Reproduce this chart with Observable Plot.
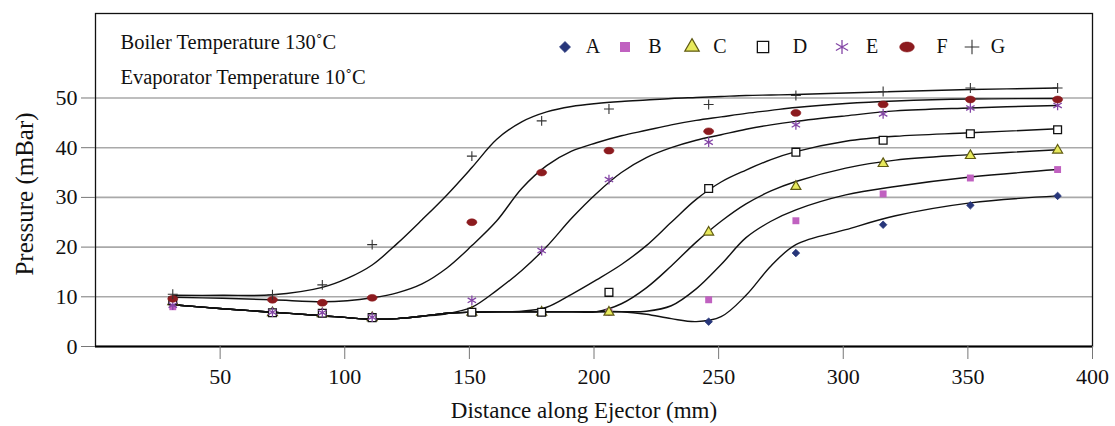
<!DOCTYPE html>
<html>
<head>
<meta charset="utf-8">
<script src="https://cdn.jsdelivr.net/npm/d3@7"></script>
<script src="https://cdn.jsdelivr.net/npm/@observablehq/plot@0.6"></script>
<style>
  body { margin: 0; background: #fff; }
  #wrap { position: relative; width: 1115px; height: 426px; font-family: "Liberation Serif", "Times New Roman", serif; color: #111; }
  #legend { position: absolute; left: 0; top: 0; width: 1115px; height: 0; }
  .lg-sym { position: absolute; }
  .lg-txt { position: absolute; font-size: 20px; line-height: 20px; transform: translateX(-50%); }
</style>
</head>
<body>
<div id="wrap"></div>
<script>
// ---------------- data ----------------
const seriesNames = ["A", "B", "C", "D", "E", "F", "G"];

// measured points (markers)
const pointX = [31, 71, 91, 111, 151, 179, 206, 246, 281, 316, 351, 386];
const pointA = [8.6, 6.8, 6.6, 5.8, 6.9, 6.9, 6.9, 5.0, 18.8, 24.5, 28.4, 30.3];
const pointB = [8.0, 6.8, 6.6, 5.8, 6.9, 6.9, 6.9, 9.4, 25.3, 30.7, 33.9, 35.6];
const pointC = [9.0, 6.8, 6.6, 5.8, 6.9, 6.9, 6.9, 23.0, 32.2, 36.8, 38.4, 39.5];
const pointD = [9.2, 6.8, 6.7, 5.8, 6.9, 6.9, 10.9, 31.8, 39.1, 41.5, 42.8, 43.6];
const pointE = [8.3, 6.9, 6.8, 5.9, 9.3, 19.3, 33.6, 41.1, 44.6, 46.8, 48.0, 48.5];
const pointF = [9.6, 9.4, 8.8, 9.8, 25.0, 35.0, 39.4, 43.3, 47.0, 48.7, 49.7, 49.7];
const pointG = [10.5, 10.4, 12.4, 20.5, 38.3, 45.4, 47.8, 48.7, 50.5, 51.3, 52.0, 52.0];

// fitted curves
const curveX = [31, 51, 71, 91, 101, 111, 121, 131, 141, 151, 161, 171, 181, 191, 201, 211, 221, 231, 241, 251, 261, 271, 281, 301, 321, 351, 386];
const curveA = [8.4, 7.6, 6.9, 6.2, 5.8, 5.5, 5.6, 6.1, 6.7, 6.9, 7.0, 7.0, 7.0, 7.0, 7.0, 7.0, 6.5, 5.6, 5.0, 6.0, 10.3, 16.2, 20.5, 23.5, 26.3, 28.9, 30.3];
const curveB = [8.4, 7.6, 6.9, 6.2, 5.8, 5.5, 5.6, 6.1, 6.7, 6.9, 7.0, 7.0, 7.0, 7.0, 7.0, 7.0, 7.1, 8.2, 11.6, 16.5, 21.9, 25.2, 27.5, 30.5, 32.2, 34.1, 35.6];
const curveC = [8.4, 7.6, 6.9, 6.2, 5.8, 5.5, 5.6, 6.1, 6.7, 6.9, 7.0, 7.0, 7.0, 7.0, 7.0, 8.6, 11.8, 16.2, 21.0, 25.2, 28.7, 31.3, 33.2, 35.9, 37.5, 38.6, 39.6];
const curveD = [8.4, 7.6, 6.9, 6.2, 5.8, 5.5, 5.6, 6.1, 6.7, 6.9, 7.0, 7.1, 7.9, 10.5, 13.4, 16.5, 20.3, 25.0, 29.6, 33.1, 35.5, 37.6, 39.2, 41.3, 42.3, 43.0, 43.8];
const curveE = [8.4, 7.6, 6.9, 6.2, 5.8, 5.5, 5.6, 6.1, 6.6, 7.9, 11.3, 15.3, 20.1, 25.8, 30.8, 35.0, 38.0, 40.0, 41.5, 42.6, 43.7, 44.6, 45.3, 46.4, 47.4, 48.0, 48.5];
const curveF = [9.9, 9.7, 9.4, 9.0, 9.2, 9.8, 10.8, 12.6, 15.8, 20.3, 25.3, 31.8, 36.4, 39.3, 41.0, 42.4, 43.5, 44.6, 45.5, 46.2, 46.9, 47.5, 48.1, 48.9, 49.4, 49.8, 49.9];
const curveG = [10.3, 10.3, 10.4, 11.9, 13.7, 16.4, 20.7, 25.5, 30.5, 36.0, 41.7, 45.2, 47.2, 48.3, 48.9, 49.3, 49.6, 49.9, 50.1, 50.3, 50.5, 50.6, 50.7, 51.0, 51.3, 51.7, 52.0];

const xTicks = [50, 100, 150, 200, 250, 300, 350, 400];
const yTicks = [0, 10, 20, 30, 40, 50];
const yGrid = [10, 20, 30, 40, 50];

const xTitle = "Distance along Ejector (mm)";
const yTitle = "Pressure (mBar)";
const note1 = "Boiler Temperature 130˚C";
const note2 = "Evaporator Temperature 10˚C";

// ---------------- styles ----------------
const k = 0.5523;
const ellipse = {
  draw(ctx, size) {
    const r = Math.sqrt(size / Math.PI);
    const rx = r * 1.25, ry = r * 0.85;
    ctx.moveTo(rx, 0);
    ctx.bezierCurveTo(rx, ry * k, rx * k, ry, 0, ry);
    ctx.bezierCurveTo(-rx * k, ry, -rx, ry * k, -rx, 0);
    ctx.bezierCurveTo(-rx, -ry * k, -rx * k, -ry, 0, -ry);
    ctx.bezierCurveTo(rx * k, -ry, rx, -ry * k, rx, 0);
    ctx.closePath();
  }
};
const style = {
  A: {symbol: "diamond2", d3sym: d3.symbolDiamond2, r: 3.4, fill: "#27367a", stroke: "#27367a", sw: 0.8},
  B: {symbol: "square", d3sym: d3.symbolSquare, r: 3.9, fill: "#c061c0", stroke: "none", sw: 0},
  C: {symbol: "triangle", d3sym: d3.symbolTriangle, r: 3.7, fill: "#e8ea5c", stroke: "#5f5a12", sw: 1.2},
  D: {symbol: "square", d3sym: d3.symbolSquare, r: 4.4, fill: "white", stroke: "#111", sw: 1.3},
  E: {symbol: "asterisk", d3sym: d3.symbolAsterisk, r: 4.6, fill: "none", stroke: "#8446a6", sw: 1.3},
  F: {symbol: ellipse, d3sym: ellipse, r: 4.0, fill: "#8c1b1f", stroke: "#8c1b1f", sw: 0.6},
  G: {symbol: "plus", d3sym: d3.symbolPlus, r: 3.3, fill: "none", stroke: "#333", sw: 1.1}
};

const points = {A: pointA, B: pointB, C: pointC, D: pointD, E: pointE, F: pointF, G: pointG};
const curves = {A: curveA, B: curveB, C: curveC, D: curveD, E: curveE, F: curveF, G: curveG};

const lineMarks = seriesNames.map(s =>
  Plot.line(curveX.map((x, i) => ({x, y: curves[s][i]})), {
    x: "x", y: "y", curve: "catmull-rom", stroke: "#111", strokeWidth: 1.4
  })
);
const dotMarks = seriesNames.map(s => {
  const st = style[s];
  return Plot.dot(pointX.map((x, i) => ({x, y: points[s][i]})), {
    x: "x", y: "y", symbol: st.symbol, r: st.r,
    fill: st.fill, stroke: st.stroke, strokeWidth: st.sw
  });
});

const chart = Plot.plot({
  width: 1115,
  height: 426,
  marginLeft: 95,
  marginRight: 23,
  marginTop: 13,
  marginBottom: 80,
  style: {fontFamily: "'Liberation Serif', 'Times New Roman', serif", fontSize: "22px", color: "#111", background: "white"},
  x: {domain: [0, 400]},
  y: {domain: [0, 67]},
  marks: [
    Plot.gridY(yGrid, {stroke: "#a9a9a9", strokeOpacity: 1, strokeWidth: 1.6}),
    Plot.frame({stroke: "#111", strokeWidth: 1.3}),
    Plot.ruleY([0], {stroke: "#000", strokeWidth: 2.2}),
    Plot.axisX(xTicks, {tickSize: 13, tickPadding: 9, stroke: "#777", fill: "#111", fontSize: 22, label: null}),
    Plot.axisY(yTicks, {tickSize: 14, tickPadding: 4, stroke: "#777", fill: "#111", fontSize: 22, label: null}),
    ...lineMarks,
    ...dotMarks,
    Plot.text([yTitle], {frameAnchor: "left", rotate: -90, dx: -71, dy: 14, fontSize: 25, fill: "#111", lineAnchor: "middle", textAnchor: "middle"}),
    Plot.text([xTitle], {frameAnchor: "bottom", dx: -10, dy: 64, fontSize: 23, fill: "#111", lineAnchor: "middle"}),
    Plot.text([note1], {frameAnchor: "top-left", dx: 25, dy: 29, fontSize: 20.5, fill: "#111", textAnchor: "start", lineAnchor: "middle"}),
    Plot.text([note2], {frameAnchor: "top-left", dx: 25, dy: 64, fontSize: 20.5, fill: "#111", textAnchor: "start", lineAnchor: "middle"})
  ]
});

const wrap = document.getElementById("wrap");
wrap.appendChild(chart);

// ---------------- legend (HTML overlay) ----------------
const legendSymX = [565, 625, 692, 763, 842, 907, 972];
const legendTxtX = [593, 655, 720, 800, 872, 942, 998];
const legendY = 47;
const legendScale = 1.45;
const legend = document.createElement("div");
legend.id = "legend";
wrap.appendChild(legend);
seriesNames.forEach((s, i) => {
  const st = style[s];
  const size = Math.PI * (st.r * legendScale) ** 2;
  const svg = d3.create("svg").attr("class", "lg-sym").attr("width", 24).attr("height", 24)
    .style("left", (legendSymX[i] - 12) + "px").style("top", (legendY - 12) + "px");
  svg.append("path").attr("transform", "translate(12,12)")
    .attr("d", d3.symbol(st.d3sym, size)())
    .attr("fill", st.fill).attr("stroke", st.stroke).attr("stroke-width", st.sw);
  legend.appendChild(svg.node());
  const t = document.createElement("div");
  t.className = "lg-txt";
  t.textContent = s;
  t.style.left = legendTxtX[i] + "px";
  t.style.top = (legendY - 11) + "px";
  legend.appendChild(t);
});
</script>
</body>
</html>
